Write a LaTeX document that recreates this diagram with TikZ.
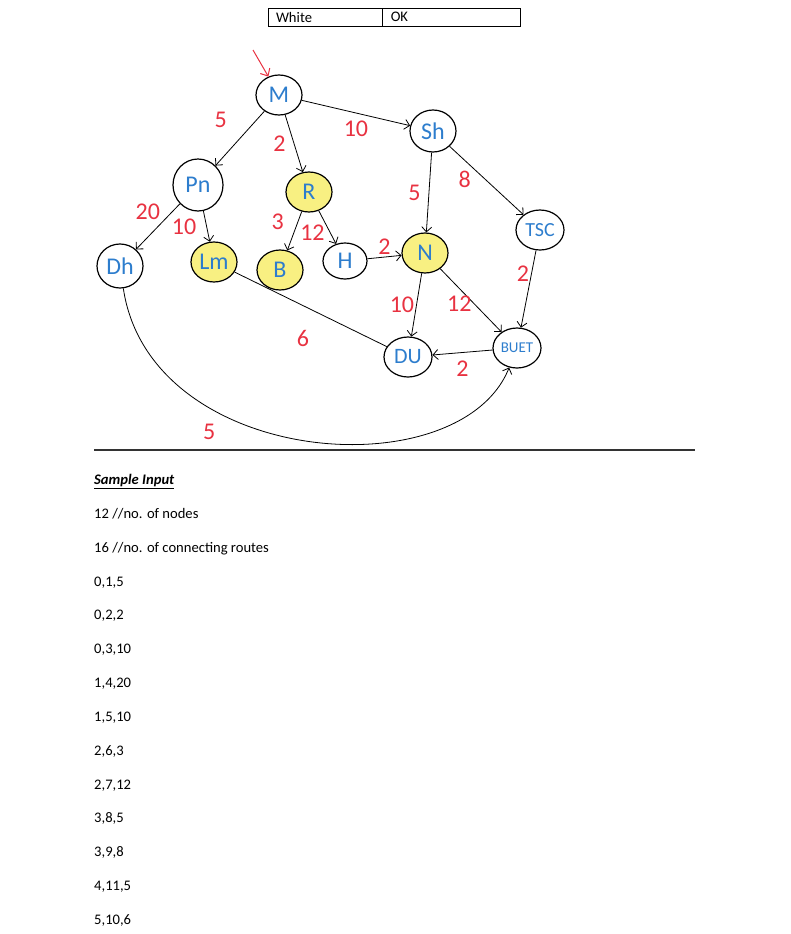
\documentclass[tikz,border=0pt]{standalone}
\usepackage{fontspec}
\setmainfont{Carlito}
\usepackage{tikz}
\usetikzlibrary{arrows.meta,positioning,shapes.geometric}
\definecolor{inkblue}{RGB}{45,125,205}
\definecolor{inkred}{RGB}{232,50,65}
\definecolor{hilite}{RGB}{248,240,130}
\tikzset{
 city/.style={ellipse,draw,line width=1.2pt,inner sep=0pt,minimum width=46pt,minimum height=40pt,text=inkblue,font=\fontsize{24}{24}\selectfont},
 visited/.style={city,fill=hilite},
 wt/.style={text=inkred,inner sep=2pt,font=\fontsize{24}{24}\selectfont},
 cell/.style={draw,line width=0.8pt,inner xsep=8pt,inner ysep=0pt,minimum height=18pt,align=left,font=\fontsize{14.6}{16}\selectfont},
 rowtxt/.style={anchor=mid west,inner sep=0pt,font=\fontsize{14.6}{17}\selectfont}
}
\begin{document}
\begin{tikzpicture}[x=1pt,y=-1pt]
\useasboundingbox (0,0) rectangle (790,934);
\node[cell,text width=98pt] (white) at (325,17) {White};
\node[cell,text width=122pt,right=0pt of white] (ok) {OK};
\node[city] (M) at (279,95) {M};
\node[city,minimum width=50pt,minimum height=52pt] (Pn) at (198,185) {Pn};
\node[visited] (R) at (309,192) {R};
\node[city,minimum height=44pt] (Dh) at (120,266) {Dh};
\node[visited] (Lm) at (214,262) {Lm};
\node[visited] (B) at (280,270) {B};
\node[city,minimum width=44pt,minimum height=36pt] (H) at (345,261) {H};
\node[city,minimum height=42pt] (Sh) at (433,131) {Sh};
\node[city,minimum width=48pt,font=\fontsize{20}{20}\selectfont] (TSC) at (540,230) {TSC};
\node[visited] (N) at (425,253) {N};
\node[city,minimum width=48pt,font=\fontsize{22}{22}\selectfont] (DU) at (408,357) {DU};
\node[city,minimum width=48pt,font=\fontsize{15}{15}\selectfont] (BUET) at (517,348) {BUET};
\coordinate (entry) at (253,50);
\draw[->,>={Straight Barb[length=6pt,width=11pt]},inkred,line width=1pt] (entry) -- (M);
\path[->,>={Straight Barb[length=5pt,width=10pt]},line width=0.8pt]
(M) edge node[wt,pos=0.35,above left,xshift=-18pt]{5} (Pn)
(M) edge node[wt,left=6pt]{2} (R)
(M) edge node[wt,below=6pt]{10} (Sh)
(Pn) edge node[wt,pos=0.4,above left]{20} (Dh)
(Pn) edge node[wt,left=8pt]{10} (Lm)
(R) edge node[wt,pos=0.25,left=12pt]{3} (B)
(R) edge node[wt,pos=0.65,left=3pt]{12} (H)
(H) edge node[wt,above]{2} (N)
(Sh) edge node[wt,left=6pt]{5} (N)
(Sh) edge node[wt,pos=0.32,below left]{8} (TSC)
(TSC) edge node[wt,pos=0.3,left=0pt]{2} (BUET)
(N) edge node[wt,left]{10} (DU)
(N) edge node[wt,pos=0.55,left]{12} (BUET)
(BUET) edge node[wt,below=6pt]{2} (DU)
(Lm) edge[-] node[wt,pos=0.45,below=22pt]{6} (DU);
\draw[->,>={Straight Barb[length=5pt,width=10pt]},line width=0.8pt] (Dh) .. controls (150,468) and (460,490) .. (BUET) node[wt,pos=0.3,below=14pt]{5};
\draw[line width=2pt,black!80] (94,450) -- (695,450);
\node[rowtxt] (head) at (94,482) {\textbf{\textit{\underline{Sample Input}}}};
\foreach \txt [count=\i] in {12 //no. of nodes,16 //no. of connecting routes,{0,1,5},{0,2,2},{0,3,10},{1,4,20},{1,5,10},{2,6,3},{2,7,12},{3,8,5},{3,9,8},{4,11,5},{5,10,6}}
 \node[rowtxt] (line\i) at (94,{516+(\i-1)*33.83}) {\txt};
\end{tikzpicture}
\end{document}
